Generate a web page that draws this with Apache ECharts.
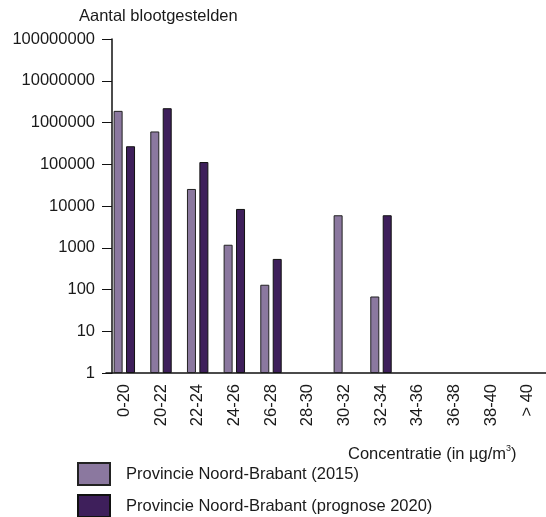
<!DOCTYPE html>
<html>
<head>
<meta charset="utf-8">
<script src="https://cdn.jsdelivr.net/npm/echarts@6/dist/echarts.min.js"></script>
<style>
  html, body { margin: 0; padding: 0; background: #fff; }
  #chart { width: 546px; height: 517px; }
</style>
</head>
<body>
<div id="chart"></div>
<script>
// Concentration classes (µg/m³)
const categories = ['0-20', '20-22', '22-24', '24-26', '26-28', '28-30', '30-32', '32-34', '34-36', '36-38', '38-40', '> 40'];
// Number of exposed inhabitants per class; null = nobody in that class
const values2015 = [1900000, 610000, 25600, 1180, 130, null, 6000, 68, null, null, null, null];
const values2020 = [270000, 2200000, 113000, 8500, 540, null, null, 6000, null, null, null, null];
const seriesNames = ['Provincie Noord-Brabant (2015)', 'Provincie Noord-Brabant (prognose 2020)'];
const yTitle = 'Aantal blootgestelden';
const xTitle = '{a|Concentratie (in µg/m}{s|3}{a|)}';

const FONT = 'Liberation Sans, Arial, sans-serif';
const FS = 16.5;
const TEXT = '#1a1a1a';

const chart = echarts.init(document.getElementById('chart'), null, { renderer: 'canvas' });

// one legend block per series, stacked under the x-axis title
const legendBlock = (name, top) => ({
  left: 77,
  top: top,
  padding: 0,
  itemWidth: 32,
  itemHeight: 22,
  icon: 'rect',
  selectedMode: false,
  textStyle: { fontFamily: FONT, fontSize: FS, color: TEXT, padding: [0, 0, 0, 11] },
  data: [name]
});

chart.setOption({
  backgroundColor: '#ffffff',
  animation: false,
  textStyle: { fontFamily: FONT, color: TEXT },
  grid: { left: 106, top: 39, width: 444, bottom: 144, containLabel: false },
  legend: [legendBlock(seriesNames[0], 462), legendBlock(seriesNames[1], 494)],
  xAxis: {
    type: 'category',
    data: categories,
    boundaryGap: true,
    axisLine: { lineStyle: { color: '#111', width: 1.5 } },
    axisTick: { show: false },
    axisLabel: {
      rotate: 90,
      margin: 11,
      fontSize: FS,
      fontFamily: FONT,
      color: TEXT,
      interval: 0
    }
  },
  yAxis: {
    type: 'log',
    logBase: 10,
    min: 1,
    max: 100000000,
    interval: 1,
    offset: -6,
    splitLine: { show: false },
    axisLine: { show: true, lineStyle: { color: '#111', width: 1.5 } },
    axisTick: { show: true, length: 10, lineStyle: { color: '#111', width: 1 } },
    axisLabel: {
      margin: 17,
      fontSize: FS,
      fontFamily: FONT,
      color: TEXT,
      formatter: v => String(Math.round(v))
    }
  },
  graphic: [
    {
      type: 'text',
      left: 79,
      top: 8,
      style: { text: yTitle, font: FS + 'px ' + FONT, fill: TEXT }
    },
    {
      type: 'text',
      left: 348,
      top: 444,
      style: {
        text: xTitle,
        fill: TEXT,
        rich: {
          a: { fontSize: FS, fontFamily: FONT, color: TEXT, lineHeight: 20 },
          s: { fontSize: 9, fontFamily: FONT, color: TEXT, verticalAlign: 'top', lineHeight: 20 }
        }
      }
    }
  ],
  series: [
    {
      name: seriesNames[0],
      type: 'bar',
      data: values2015,
      barWidth: 9,
      barGap: '38%',
      itemStyle: { color: '#8b789f', borderColor: '#222', borderWidth: 1 }
    },
    {
      name: seriesNames[1],
      type: 'bar',
      data: values2020,
      barWidth: 9,
      itemStyle: { color: '#3e1f5b', borderColor: '#111', borderWidth: 1 }
    }
  ]
});
</script>
</body>
</html>
